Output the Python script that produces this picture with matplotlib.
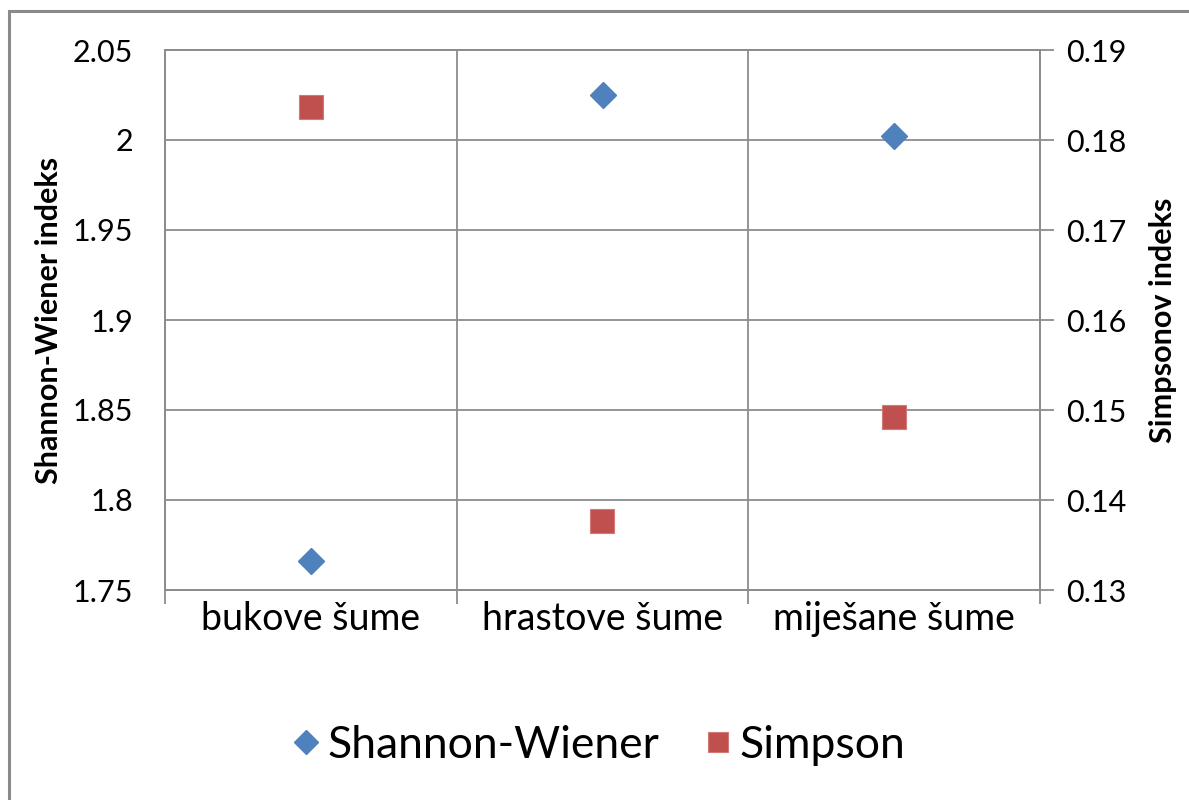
import matplotlib
matplotlib.use("Agg")
import matplotlib.pyplot as plt
from matplotlib.patches import Rectangle
import numpy as np

categories = ["bukove šume", "hrastove šume", "miješane šume"]
shannon = [1.766, 2.025, 2.002]
simpson = [0.1837, 0.1377, 0.1492]
left_ticks = [1.75, 1.8, 1.85, 1.9, 1.95, 2.0, 2.05]
left_labels = ["1.75", "1.8", "1.85", "1.9", "1.95", "2", "2.05"]
right_ticks = [0.13, 0.14, 0.15, 0.16, 0.17, 0.18, 0.19]
right_labels = ["0.13", "0.14", "0.15", "0.16", "0.17", "0.18", "0.19"]

FONT = ["Lato", "DejaVu Sans"]
plt.rcParams['font.family'] = FONT
GRID = "#8c8c8c"
BLUE = "#4F81BD"
RED = "#C0504D"

W, H = 1189, 800
fig = plt.figure(figsize=(W/100, H/100), dpi=100)
ax = fig.add_axes([165/W, 1-590/H, (1040-165)/W, (590-50)/H])
ax2 = ax.twinx()

x = np.arange(len(categories))
ax.set_xlim(-0.5, len(categories)-0.5)
ax.set_ylim(1.75, 2.05)
ax2.set_ylim(0.13, 0.19)

ax.set_yticks(left_ticks)
ax.set_yticklabels(left_labels, fontsize=22)
ax.tick_params(axis='y', length=0, pad=23)
ax.yaxis.grid(True, color=GRID, lw=1.3)

ax.set_xticks(x)
ax.set_xticklabels(categories, fontsize=27)
ax.tick_params(axis='x', which='major', length=0, pad=8)
ax.set_xticks(np.arange(len(categories)+1)-0.5, minor=True)
ax.tick_params(axis='x', which='minor', length=10, color=GRID, width=1.3)
ax.xaxis.grid(True, which='minor', color=GRID, lw=1.3)
ax.set_axisbelow(True)

ax2.set_yticks(right_ticks)
ax2.set_yticklabels(right_labels, fontsize=22)
ax2.tick_params(axis='y', length=10, color=GRID, width=1.3, pad=9)

for a in (ax, ax2):
    for s in a.spines.values():
        s.set_color(GRID)
        s.set_linewidth(1.3)

ax.set_ylabel("Shannon-Wiener indeks", fontsize=22, fontweight='bold', labelpad=7)
ax2.set_ylabel("Simpsonov indeks", fontsize=22, fontweight='bold', labelpad=16)

l1, = ax.plot(x, shannon, linestyle='none', marker='D', ms=13.5, color=BLUE,
              markeredgecolor=BLUE, label="Shannon-Wiener", zorder=5)
l2, = ax2.plot(x, simpson, linestyle='none', marker='s', ms=17, color=RED,
               markeredgecolor="#d27a78", markeredgewidth=0.8, label="Simpson", zorder=5)

fig.legend(handles=[l1, l2], loc='center', bbox_to_anchor=(0.5, 1-745/H),
           ncol=2, frameon=False, fontsize=32, handletextpad=0.0,
           handlelength=1.0, columnspacing=0.8, markerscale=0.88)

fig.patches.append(Rectangle((9/W, -0.1), 1.2, 1-11/H+0.1, transform=fig.transFigure,
                             fill=False, edgecolor="#8a8a8a", lw=2.2))

fig.savefig("out.png", dpi=100)
